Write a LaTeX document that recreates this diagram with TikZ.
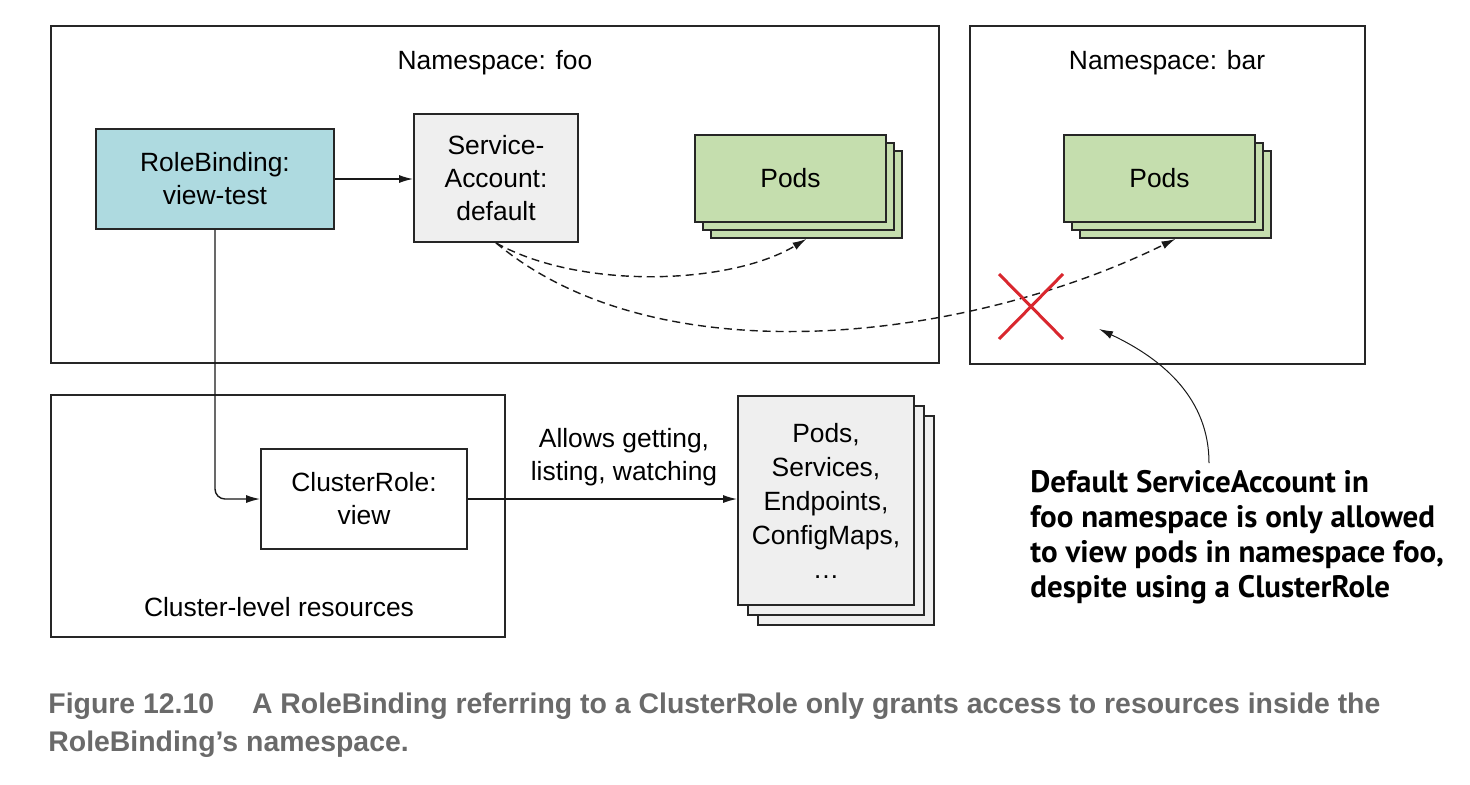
\documentclass[tikz,border=0pt]{standalone}
\usepackage{fontspec}
\setmainfont{Liberation Sans}
\newfontfamily\noteFont{PT Sans}
\newfontfamily\capFont{Liberation Sans}
\usetikzlibrary{arrows.meta}
\definecolor{rbBlue}{HTML}{AEDAE0}
\definecolor{saGray}{HTML}{EFEFEF}
\definecolor{podGreen}{HTML}{C5DEAE}
\definecolor{capGray}{HTML}{6A6A6A}
\definecolor{xRed}{HTML}{D9272E}
\newcommand{\bodyFont}{\fontsize{13.2}{16.5}\selectfont}
\begin{document}
\begin{tikzpicture}[x=0.5pt, y=-0.5pt,
    nsStyle/.style={rectangle, draw=black!85, line width=1pt, inner sep=0pt},
    boxStyle/.style={rectangle, draw=black!85, line width=0.9pt, inner sep=0pt, align=center, font=\bodyFont},
    podStyle/.style={boxStyle, fill=podGreen, minimum width=95.5pt, minimum height=43.5pt},
    resStyle/.style={boxStyle, fill=saGray, minimum width=88pt, minimum height=104.5pt},
    labelStyle/.style={align=center, font=\bodyFont},
    arrowStyle/.style={-{Latex[length=7pt, width=4pt]}, line width=0.7pt, black!90},
    dashStyle/.style={arrowStyle, dash pattern=on 4pt off 2.5pt},
    xStyle/.style={xRed, line width=1.5pt}]
    \useasboundingbox (0,0) rectangle (1470,784);

    \node[nsStyle, minimum width=444pt, minimum height=168.5pt] (fooNs) at ( 495,   194.5) {};
    \node[nsStyle, minimum width=197.5pt, minimum height=169pt] (barNs) at (1167.5, 195) {};
    \node[nsStyle, minimum width=227pt, minimum height=121pt]   (clNs)  at ( 278,   516) {};
    \node[labelStyle] (fooNs_L) at ( 495,  63) {Namespace: foo};
    \node[labelStyle] (barNs_L) at (1167,  63) {Namespace: bar};
    \node[labelStyle] (clNs_L)  at ( 279, 607) {Cluster-level resources};

    \node[boxStyle, fill=rbBlue, minimum width=119pt, minimum height=50pt] (rb_0) at (215, 179) {RoleBinding:\\view-test};
    \node[boxStyle, fill=saGray, minimum width=82pt, minimum height=64pt]  (sa_0) at (496, 178) {Service-\\Account:\\default};

    \node[podStyle] (podsFoo_2) at (790.5 + 16, 178.5 + 16) {};
    \node[podStyle] (podsFoo_1) at (790.5 +  8, 178.5 +  8) {};
    \node[podStyle] (podsFoo_0) at (790.5,      178.5)      {Pods};

    \node[podStyle] (podsBar_2) at (1159.5 + 16, 178.5 + 16) {};
    \node[podStyle] (podsBar_1) at (1159.5 +  8, 178.5 +  8) {};
    \node[podStyle] (podsBar_0) at (1159.5,      178.5)      {Pods};

    \node[boxStyle, fill=white, minimum width=103pt, minimum height=50pt] (cr_0) at (364, 499) {ClusterRole:\\view};

    \node[resStyle] (res_2) at (826 + 20, 500.5 + 20) {};
    \node[resStyle] (res_1) at (826 + 10, 500.5 + 10) {};
    \node[resStyle, font=\fontsize{13.2}{17}\selectfont] (res_0) at (826, 500.5) {Pods,\\Services,\\Endpoints,\\ConfigMaps,\\\dots};

    \node[labelStyle] (allow_L) at (624, 457) {Allows getting,\\listing, watching};

    \draw[arrowStyle] (rb_0.east) -- (rb_0.east -| sa_0.west);
    \draw[arrowStyle, rounded corners=5pt] (rb_0.south) |- (cr_0.west);
    \draw[arrowStyle] (cr_0.east) -- (cr_0.east -| res_0.west);

    \draw[dashStyle] (sa_0.south) .. controls (580, 290) and (730, 285) .. (podsFoo_2.south);
    \draw[dashStyle] (sa_0.south) .. controls (660, 380) and (970, 340) .. (podsBar_2.south);

    \draw[xStyle] (999, 274) -- (1063, 339) (1063, 274) -- (999, 339);

    \node[anchor=north west, align=left, inner sep=0pt, font=\noteFont\bfseries\fontsize{15.5}{17.5}\selectfont] (note) at (1030, 470)
        {Default ServiceAccount in\\foo namespace is only allowed\\to view pods in namespace foo,\\despite using a ClusterRole};
    \coordinate (note_T) at (1209, 463);
    \coordinate (note_H) at (1099, 329);
    \draw[arrowStyle, line width=0.5pt] (note_T) .. controls (1209, 400) and (1165, 360) .. (note_H);

    \node[anchor=north west, align=left, inner sep=0pt, text=capGray, font=\capFont\bfseries\fontsize{14.2}{19}\selectfont] (cap) at (48, 692)
        {Figure 12.10\hspace{15pt} A RoleBinding referring to a ClusterRole only grants access to resources inside the\\RoleBinding’s namespace.};
\end{tikzpicture}
\end{document}
